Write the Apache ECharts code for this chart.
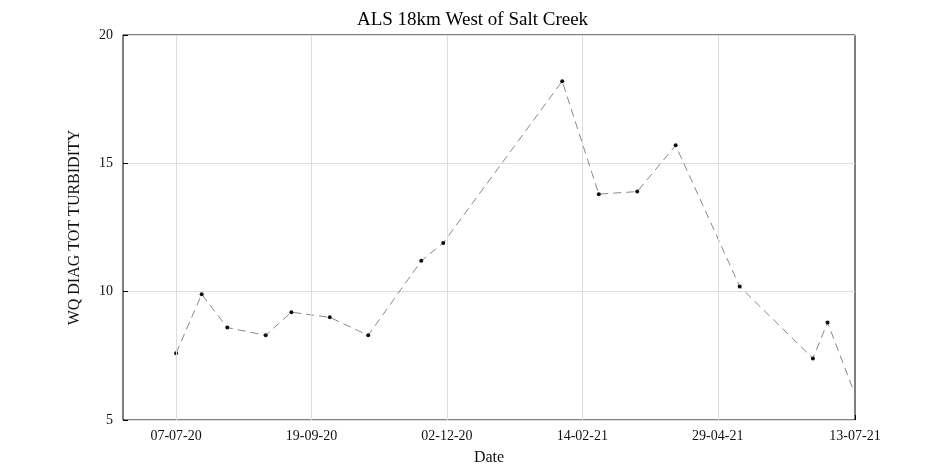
<!DOCTYPE html>
<html>
<head>
<meta charset="utf-8">
<script src="https://cdn.jsdelivr.net/npm/echarts@6/dist/echarts.min.js"></script>
<style>body{margin:0;background:#fff}#chart{width:945px;height:472px}</style>
</head>
<body>
<div id="chart"></div>
<script>
// sample dates and turbidity
var dates = ['2020-07-07','2020-07-21','2020-08-04','2020-08-25','2020-09-08','2020-09-29','2020-10-20',
  '2020-11-18','2020-11-30','2021-02-03','2021-02-23','2021-03-16','2021-04-06','2021-05-11',
  '2021-06-20','2021-06-28','2021-07-13'];
var values = [7.6, 9.9, 8.6, 8.3, 9.2, 9.0, 8.3, 11.2, 11.9, 18.2, 13.8, 13.9, 15.7, 10.2, 7.4, 8.8, 6.0];
var tickDates = ['2020-07-07','2020-09-19','2020-12-02','2021-02-14','2021-04-29','2021-07-13'];

var base = Date.UTC(2020, 6, 7);
function toDay(s) {
  var p = s.split('-');
  return Math.round((Date.UTC(+p[0], +p[1] - 1, +p[2]) - base) / 86400000);
}
function fmt(d) {
  var t = new Date(base + d * 86400000);
  var pad = function (n) { return (n < 10 ? '0' : '') + n; };
  return pad(t.getUTCDate()) + '-' + pad(t.getUTCMonth() + 1) + '-' + pad(t.getUTCFullYear() % 100);
}
var ticks = tickDates.map(toDay);
var data = dates.map(function (d, i) {
  var p = { value: [toDay(d), values[i]] };
  if (i === dates.length - 1) p.symbolSize = 0;
  return p;
});

var font = 'Liberation Serif, DejaVu Serif, serif';
var chart = echarts.init(document.getElementById('chart'));
chart.setOption({
  animation: false,
  textStyle: { fontFamily: font },
  title: { text: 'ALS 18km West of Salt Creek', left: 'center', top: 6,
    textStyle: { fontFamily: font, fontSize: 19, fontWeight: 'normal', color: '#000' } },
  grid: { left: 123, right: 90, top: 35, bottom: 52, show: true, borderColor: '#000', borderWidth: 1 },
  xAxis: {
    type: 'value', min: -29, max: ticks[5],
    name: 'Date', nameLocation: 'middle', nameGap: 30,
    nameTextStyle: { fontFamily: font, fontSize: 16, color: '#111' },
    axisLine: { show: false, onZero: false },
    axisTick: { show: true, inside: true, length: 5, customValues: ticks, lineStyle: { color: '#000' } },
    axisLabel: { customValues: ticks, formatter: fmt, fontFamily: font, fontSize: 14, color: '#111', margin: 9 },
    splitLine: { show: false }
  },
  yAxis: {
    type: 'value', min: 5, max: 20, interval: 5,
    name: 'WQ DIAG TOT TURBIDITY', nameLocation: 'middle', nameGap: 40,
    nameTextStyle: { fontFamily: font, fontSize: 16, color: '#111' },
    axisLine: { show: false, onZero: false },
    axisTick: { show: true, inside: true, length: 5, lineStyle: { color: '#000' } },
    axisLabel: { fontFamily: font, fontSize: 14, color: '#111', margin: 10 },
    splitLine: { lineStyle: { color: '#ddd' } }
  },
  series: [{
    type: 'line', data: data, symbol: 'circle', symbolSize: 4,
    itemStyle: { color: '#111' },
    lineStyle: { color: '#888', width: 1, type: [8, 5] },
    markLine: {
      silent: true, symbol: 'none', label: { show: false },
      lineStyle: { color: '#ddd', type: 'solid', width: 1 },
      data: ticks.slice(0, 5).map(function (t) { return { xAxis: t }; })
    },
    z: 3
  }]
});
</script>
</body>
</html>
